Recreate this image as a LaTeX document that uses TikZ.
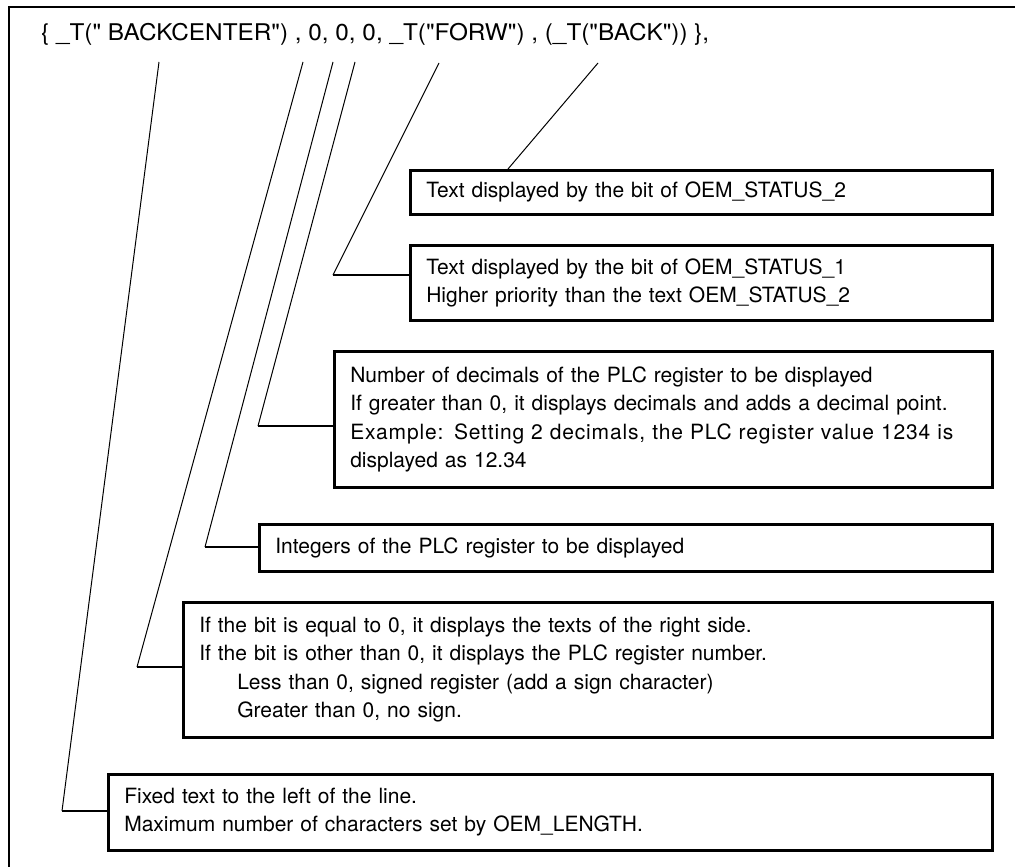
\documentclass[tikz,border=0pt]{standalone}
\usepackage{fontspec}
\usepackage{graphicx}
\setmainfont{TeX Gyre Heros}[Ligatures=TeXOff]
\begin{document}
\begin{tikzpicture}[x=1pt,y=-1pt,
  frame/.style={line width=2.6pt},
  box/.style={draw, line width=2.6pt, anchor=north west, inner xsep=16pt, inner ysep=0pt,
              align=left, font=\fontsize{21}{28.5}\selectfont},
  lead/.style={line width=1pt},
  tail/.style={line width=2pt},
  codeline/.style={anchor=base west, inner sep=0pt, font=\fontsize{23}{28}\selectfont}]
\useasboundingbox (0,0) rectangle (1015,867);
\clip (0,0) rectangle (1015,867);
\draw[frame] (9,880) -- (9,7) -- (1030,7);

\node[codeline] (code) at (41,41)
  {\resizebox{668pt}{\height}{\{ \_T(" BACKCENTER") , 0, 0, 0, \_T("FORW") , (\_T("BACK")) \},}};

\node[box, minimum width=582pt, minimum height=44pt, text width=550pt] (b1) at (409,169)
  {Text displayed by the bit of OEM\_STATUS\_2};
\node[box, minimum width=582pt, minimum height=75pt, text width=550pt] (b2) at (409,244)
  {Text displayed by the bit of OEM\_STATUS\_1\\Higher priority than the text OEM\_STATUS\_2};
\node[box, minimum width=658pt, minimum height=136pt, text width=626pt] (b3) at (333,350)
  {Number of decimals of the PLC register to be displayed\\
   If greater than 0, it displays decimals and adds a decimal point.\\
   \makebox[626pt][s]{\addfontfeature{LetterSpace=4}Example: Setting 2 decimals, the PLC register value 1234 is}\\
   displayed as 12.34};
\node[box, minimum width=733pt, minimum height=47pt, text width=701pt] (b4) at (258,523)
  {Integers of the PLC register to be displayed};
\node[box, minimum width=809pt, minimum height=135pt, text width=777pt] (b5) at (182,601)
  {If the bit is equal to 0, it displays the texts of the right side.\\
   If the bit is other than 0, it displays the PLC register number.\\
   \hspace*{38pt}Less than 0, signed register (add a sign character)\\
   \hspace*{38pt}Greater than 0, no sign.};
\node[box, minimum width=884pt, minimum height=76pt, text width=852pt] (b6) at (107,773)
  {Fixed text to the left of the line.\\Maximum number of characters set by OEM\_LENGTH.};

\coordinate (t1) at (159,62);  \coordinate (k1) at (62,811);
\coordinate (t2) at (303,62);  \coordinate (k2) at (137,667);
\coordinate (t3) at (333,62);  \coordinate (k3) at (205,547);
\coordinate (t4) at (355,62);  \coordinate (k4) at (258,426);
\coordinate (t5) at (439,63);  \coordinate (k5) at (333,275);
\coordinate (t6) at (598,63);  \coordinate (k6) at (508,169);

\draw[lead] (t1) -- (k1);  \draw[tail] (k1) -- (k1 -| b6.west);
\draw[lead] (t2) -- (k2);  \draw[tail] (k2) -- (k2 -| b5.west);
\draw[lead] (t3) -- (k3);  \draw[tail] (k3) -- (k3 -| b4.west);
\draw[lead] (t4) -- (k4);  \draw[tail] (k4) -- (k4 -| b3.west);
\draw[lead] (t5) -- (k5);  \draw[tail] (k5) -- (k5 -| b2.west);
\draw[lead] (t6) -- (k6);
\end{tikzpicture}
\end{document}
